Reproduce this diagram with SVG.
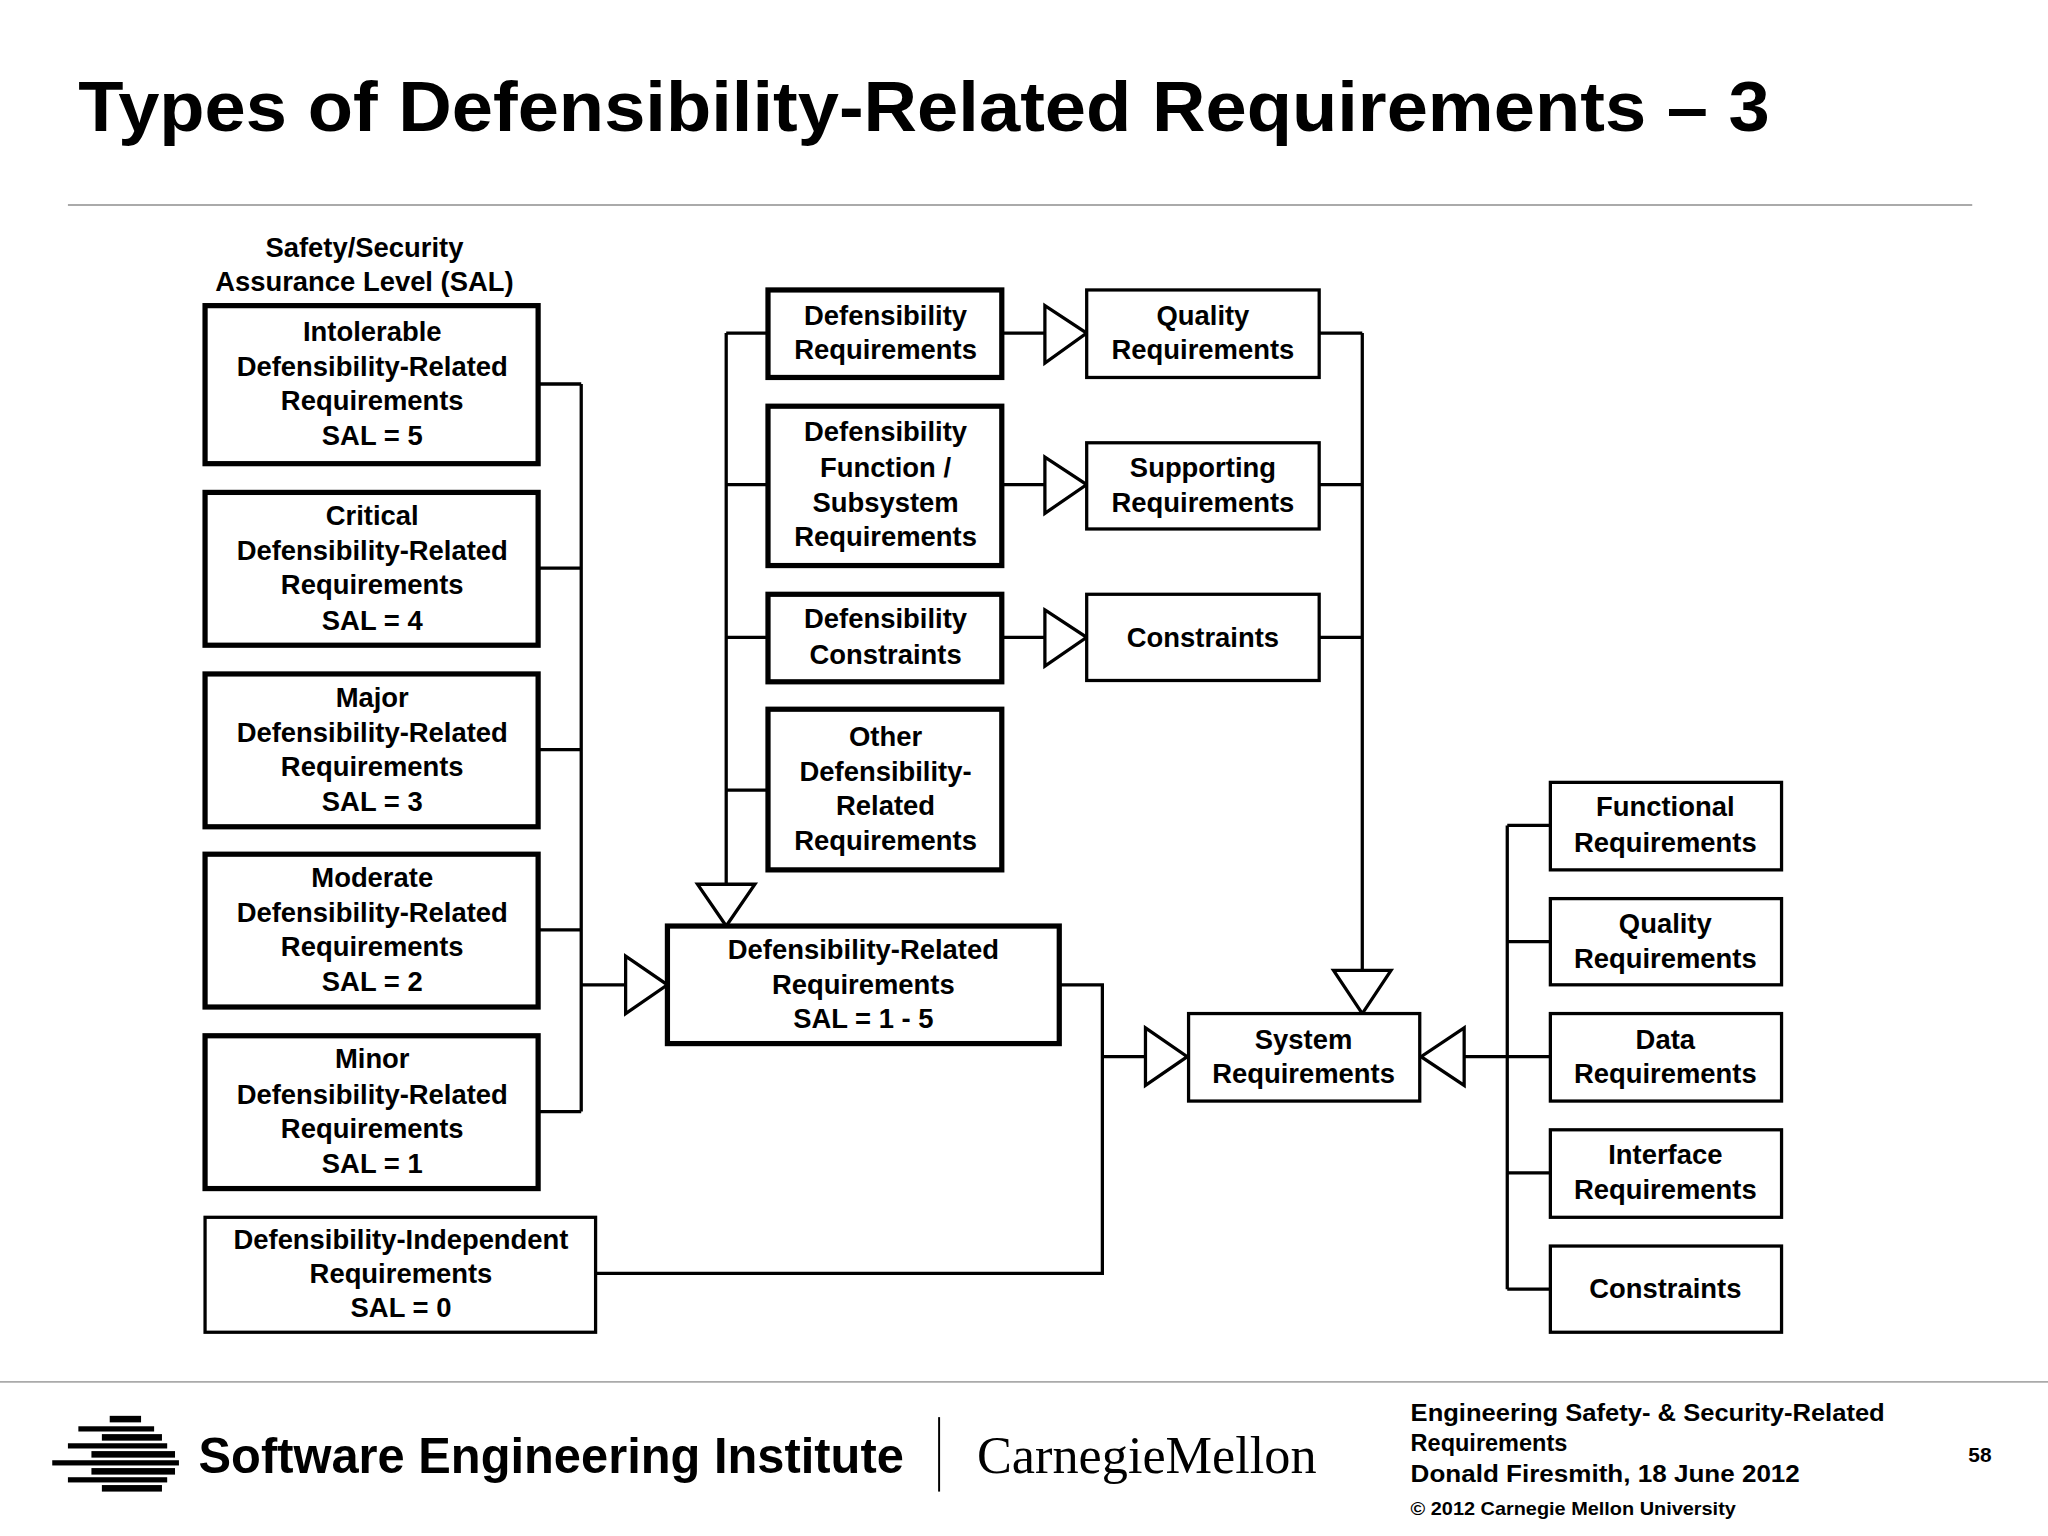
<svg xmlns="http://www.w3.org/2000/svg" width="2048" height="1536" viewBox="0 0 2048 1536">
<style>
text{font-family:"Liberation Sans",Arial,sans-serif;font-weight:bold;fill:#000}
.t{font-size:21px;text-anchor:middle}
.k{fill:#fff;stroke:#000;stroke-width:4}
.n{fill:#fff;stroke:#000;stroke-width:2.5}
.c{fill:none;stroke:#000;stroke-width:2.5}
.a{fill:#fff;stroke:#000;stroke-width:2.5}
</style>
<rect width="2048" height="1536" fill="#fff"/>
<g transform="scale(1.30612)">
<text x="60" y="100" style="font-size:54px" textLength="1295" lengthAdjust="spacingAndGlyphs">Types of Defensibility-Related Requirements – 3</text>
<line x1="52" y1="157" x2="1510" y2="157" stroke="#aaa" stroke-width="1.5"/>
<text class="t" x="279" y="197">Safety/Security</text>
<text class="t" x="279" y="223">Assurance Level (SAL)</text>
<g id="connectors">
<path class="c" d="M412 294H445M412 435H445M412 574H445M412 712H445M412 851H445M445 294V851M445 754H479"/>
<polygon class="a" points="479,732 511,754 479,776"/>
<path class="c" d="M456 975H844V754H811M844 809H877"/>
<polygon class="a" points="877,787 909,809 877,831"/>
<path class="c" d="M588 255H556M588 371H556M588 488H556M588 605H556M556 255V677"/>
<polygon class="a" points="534,677 578,677 556,709"/>
<path class="c" d="M767 255H800M767 371H800M767 488H800"/>
<polygon class="a" points="800,234 832,255 800,278"/>
<polygon class="a" points="800,350 832,371 800,393"/>
<polygon class="a" points="800,467 832,488 800,510"/>
<path class="c" d="M1010 255H1043M1010 371H1043M1010 488H1043M1043 255V743"/>
<polygon class="a" points="1021,743 1065,743 1043,776"/>
<path class="c" d="M1121 809H1154M1154 632V987M1154 632H1187M1154 721H1187M1154 809H1187M1154 898H1187M1154 987H1187"/>
<polygon class="a" points="1121,787 1088,809 1121,831"/>
</g>
<g id="sal5"><rect class="k" x="157" y="234" width="255" height="121"/><text class="t" x="285" y="261">Intolerable</text><text class="t" x="285" y="288">Defensibility-Related</text><text class="t" x="285" y="314">Requirements</text><text class="t" x="285" y="341">SAL = 5</text></g>
<g id="sal4"><rect class="k" x="157" y="377" width="255" height="117"/><text class="t" x="285" y="402">Critical</text><text class="t" x="285" y="429">Defensibility-Related</text><text class="t" x="285" y="455">Requirements</text><text class="t" x="285" y="482">SAL = 4</text></g>
<g id="sal3"><rect class="k" x="157" y="516" width="255" height="117"/><text class="t" x="285" y="541">Major</text><text class="t" x="285" y="568">Defensibility-Related</text><text class="t" x="285" y="594">Requirements</text><text class="t" x="285" y="621">SAL = 3</text></g>
<g id="sal2"><rect class="k" x="157" y="654" width="255" height="117"/><text class="t" x="285" y="679">Moderate</text><text class="t" x="285" y="706">Defensibility-Related</text><text class="t" x="285" y="732">Requirements</text><text class="t" x="285" y="759">SAL = 2</text></g>
<g id="sal1"><rect class="k" x="157" y="793" width="255" height="117"/><text class="t" x="285" y="818">Minor</text><text class="t" x="285" y="845">Defensibility-Related</text><text class="t" x="285" y="871">Requirements</text><text class="t" x="285" y="898">SAL = 1</text></g>
<g id="sal0"><rect class="n" x="157" y="932" width="299" height="88"/><text class="t" x="307" y="956">Defensibility-Independent</text><text class="t" x="307" y="982">Requirements</text><text class="t" x="307" y="1008">SAL = 0</text></g>
<g id="dr"><rect class="k" x="511" y="709" width="300" height="90"/><text class="t" x="661" y="734">Defensibility-Related</text><text class="t" x="661" y="761">Requirements</text><text class="t" x="661" y="787">SAL = 1 - 5</text></g>
<g id="dreq"><rect class="k" x="588" y="222" width="179" height="67"/><text class="t" x="678" y="249">Defensibility</text><text class="t" x="678" y="275">Requirements</text></g>
<g id="dfun"><rect class="k" x="588" y="311" width="179" height="122"/><text class="t" x="678" y="338">Defensibility</text><text class="t" x="678" y="365">Function /</text><text class="t" x="678" y="392">Subsystem</text><text class="t" x="678" y="418">Requirements</text></g>
<g id="dcon"><rect class="k" x="588" y="455" width="179" height="67"/><text class="t" x="678" y="481">Defensibility</text><text class="t" x="678" y="508">Constraints</text></g>
<g id="doth"><rect class="k" x="588" y="543" width="179" height="123"/><text class="t" x="678" y="571">Other</text><text class="t" x="678" y="598">Defensibility-</text><text class="t" x="678" y="624">Related</text><text class="t" x="678" y="651">Requirements</text></g>
<g id="qual"><rect class="n" x="832" y="222" width="178" height="67"/><text class="t" x="921" y="249">Quality</text><text class="t" x="921" y="275">Requirements</text></g>
<g id="supp"><rect class="n" x="832" y="339" width="178" height="66"/><text class="t" x="921" y="365">Supporting</text><text class="t" x="921" y="392">Requirements</text></g>
<g id="cons"><rect class="n" x="832" y="455" width="178" height="66"/><text class="t" x="921" y="495">Constraints</text></g>
<g id="sys"><rect class="n" x="910" y="776" width="177" height="67"/><text class="t" x="998" y="803">System</text><text class="t" x="998" y="829">Requirements</text></g>
<g id="func"><rect class="n" x="1187" y="599" width="177" height="67"/><text class="t" x="1275" y="625">Functional</text><text class="t" x="1275" y="652">Requirements</text></g>
<g id="qual2"><rect class="n" x="1187" y="688" width="177" height="66"/><text class="t" x="1275" y="714">Quality</text><text class="t" x="1275" y="741">Requirements</text></g>
<g id="data"><rect class="n" x="1187" y="776" width="177" height="67"/><text class="t" x="1275" y="803">Data</text><text class="t" x="1275" y="829">Requirements</text></g>
<g id="intf"><rect class="n" x="1187" y="865" width="177" height="67"/><text class="t" x="1275" y="891">Interface</text><text class="t" x="1275" y="918">Requirements</text></g>
<g id="cons2"><rect class="n" x="1187" y="954" width="177" height="66"/><text class="t" x="1275" y="994">Constraints</text></g>
<line x1="0" y1="1058" x2="1568" y2="1058" stroke="#aaa" stroke-width="1.5"/>
<g fill="#000">
<rect x="84" y="1084" width="24" height="5"/><rect x="60" y="1092" width="58" height="4"/><rect x="78" y="1098" width="46" height="5"/><rect x="52" y="1105" width="76" height="4"/><rect x="70" y="1111" width="64" height="5"/><rect x="40" y="1118" width="97" height="4"/><rect x="70" y="1124" width="64" height="5"/><rect x="52" y="1131" width="76" height="4"/><rect x="78" y="1137" width="46" height="5"/>
</g>
<text x="152" y="1128" style="font-size:38px" textLength="540" lengthAdjust="spacingAndGlyphs">Software Engineering Institute</text>
<line x1="719" y1="1085" x2="719" y2="1142" stroke="#000" stroke-width="1.5"/>
<text x="748" y="1128" style="font-family:'Liberation Serif',serif;font-weight:normal;font-size:40px" textLength="260" lengthAdjust="spacingAndGlyphs">CarnegieMellon</text>
<text x="1080" y="1088" style="font-size:18px" textLength="363" lengthAdjust="spacingAndGlyphs">Engineering Safety- &amp; Security-Related</text>
<text x="1080" y="1111" style="font-size:18px">Requirements</text>
<text x="1080" y="1135" style="font-size:18px" textLength="298" lengthAdjust="spacingAndGlyphs">Donald Firesmith,  18 June 2012</text>
<text x="1080" y="1160" style="font-size:14px" textLength="249" lengthAdjust="spacingAndGlyphs">© 2012 Carnegie Mellon University</text>
<text x="1507" y="1119" style="font-size:16px">58</text>
</g>
</svg>
